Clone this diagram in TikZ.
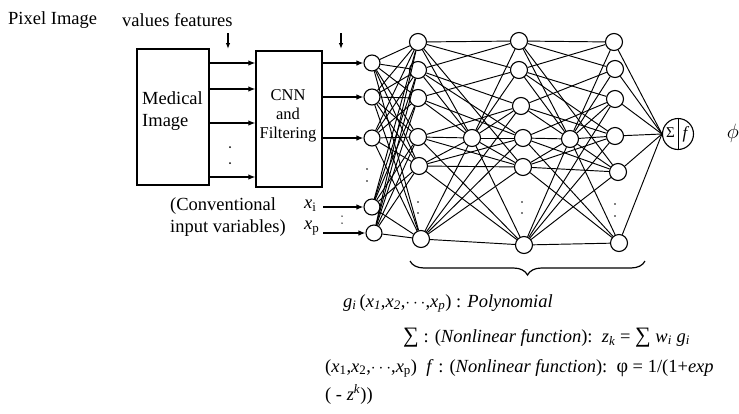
\documentclass[tikz,border=0pt]{standalone}
\usepackage{fontspec}
\setmainfont{Liberation Serif}
\usetikzlibrary{arrows.meta,decorations.pathreplacing}
\newcommand\xsb[2]{\textit{#1}\textsubscript{#2}}
\begin{document}
\begin{tikzpicture}[x=1pt,y=-1pt,
  neuron/.style={circle,draw,line width=1.1pt,minimum size=17pt,inner sep=0pt,fill=white},
  inneuron/.style={neuron,minimum size=16pt},
  conn/.style={line width=0.95pt},
  arr/.style={line width=1.2pt,-{Latex[length=7pt,width=5.5pt]}},
  box/.style={draw,line width=1.3pt,inner sep=0pt},
  big/.style={font=\fontsize{18.5}{22}\selectfont,inner sep=0pt},
  mid/.style={font=\fontsize{16.5}{19}\selectfont,inner sep=0pt},
  bot/.style={font=\fontsize{18.5}{21}\selectfont,inner sep=0pt},
  dot/.style={circle,fill,inner sep=0pt,minimum size=2pt}]
\useasboundingbox (0,0) rectangle (739,413);

% top labels
\node[big,anchor=west] (pix) at (8,20) {Pixel Image};
\node[big,anchor=west] (val) at (122,20) {values features};
\coordinate (d1t) at (228,33); \coordinate (d1b) at (228,49);
\coordinate (d2t) at (341,33); \coordinate (d2b) at (341,49);
\draw[line width=1.1pt,-{Latex[length=6pt,width=4.5pt]}] (d1t) -- (d1b);
\draw[line width=1.1pt,-{Latex[length=6pt,width=4.5pt]}] (d2t) -- (d2b);

% boxes
\node[box,minimum width=72pt,minimum height=136pt] (med) at (173,117) {};
\node[big,align=left,anchor=west] (medtxt) at (142,111) {Medical\\Image};
\node[box,minimum width=66pt,minimum height=136pt] (cnn) at (289,119) {};
\node[mid,align=center] (cnntxt) at (288,116) {CNN\\and\\Filtering};

\coordinate (r1) at (0,63); \coordinate (r2) at (0,89);
\coordinate (r3) at (0,123); \coordinate (r4) at (0,177);
\foreach \r in {r1,r2,r3,r4} \draw[arr] (med.east |- \r) -- (cnn.west |- \r);
\node[dot] (md1) at (230,147) {};
\node[dot] (md2) at (230,163) {};

% input neurons
\node[inneuron] (I1) at (372,63) {};
\node[inneuron] (I2) at (372,97) {};
\node[inneuron] (I3) at (372,138) {};
\node[inneuron] (I4) at (372,207) {};
\node[inneuron] (I5) at (374,233) {};
\draw[arr] (cnn.east |- I1) -- (I1);
\draw[arr] (cnn.east |- I2) -- (I2);
\draw[arr] (cnn.east |- I3) -- (I3);
\node[dot,minimum size=1.8pt] (id1) at (367,169) {};
\node[dot,minimum size=1.8pt] (id2) at (367,181) {};

\node[big,anchor=west] (conv1) at (170,206) {(Conventional};
\node[big,anchor=west] (conv2) at (170,228) {input variables)};
\node[big,anchor=west] (xi) at (304,206) {\textit{x}\textsubscript{i}};
\node[big,anchor=west] (xp) at (304,228) {\textit{x}\textsubscript{p}};
\coordinate (xis) at (323,207); \coordinate (xps) at (323,233);
\draw[arr] (xis) -- (I4);
\draw[arr] (xps) -- (I5);
\node[dot,minimum size=1.5pt] (xd1) at (342,216) {};
\node[dot,minimum size=1.5pt] (xd2) at (342,223) {};

% hidden layers
\foreach \n/\x/\y in {A1/418/42,A2/418/70,A3/418/98,A4/418/137,A5/419/166,A6/421/239,
  M1/472/138,
  B1/519/41,B2/519/70,B3/521/106,B4/523/138,B5/523/167,B6/524/245,
  M2/570/139,
  C1/614/42,C2/615/69,C3/615/99,C4/615/136,C5/618/172,C6/619/243}
  \node[neuron] (\n) at (\x,\y) {};
\foreach \x/\y in {418/202,418/213,522/202,522/213,615/204,615/216}
  \node[dot,minimum size=1.8pt] at (\x,\y) {};

% input -> A
\foreach \i in {1,...,5} \foreach \j in {1,...,6} \draw[conn] (I\i) -- (A\j);

% A -> B and B -> C
\foreach \X/\Y/\M in {A/B/M1,B/C/M2}{
  \foreach \i in {1,...,6} {\draw[conn] (\X\i) -- (\M); \draw[conn] (\M) -- (\Y\i);}
  \foreach \a/\b in {1/1,1/2,2/1,2/3,3/2,3/4,4/3,4/5,5/4,5/5,5/6,6/6,6/4,6/3,6/5,4/6,1/5,2/4}
    \draw[conn] (\X\a) -- (\Y\b);
}

% output
\node[circle,draw,line width=1.1pt,minimum size=31pt,inner sep=0pt] (out) at (678,134) {};
\draw[line width=1pt] (out.north) -- (out.south);
\node[font=\fontsize{15}{15}\selectfont,inner sep=0pt] (sig) at (670.5,133) {Σ};
\node[font=\fontsize{17}{17}\selectfont\itshape,inner sep=0pt] (fo) at (685,134) {f};
\foreach \i in {1,...,6} \draw[conn] (C\i) -- (out.west);
\node[font=\fontsize{20}{20}\selectfont,inner sep=0pt] (phi) at (733,133) {$\phi$};

% brace
\coordinate (bl) at (410,261); \coordinate (br) at (645,261);
\draw[line width=1.2pt,decorate,decoration={brace,mirror,amplitude=14pt}] (bl) -- (br);

% bottom text
\node[bot,anchor=base west] (t1) at (343,307) {\textit{g}\textsubscript{\textit{i}}\,(\xsb{x}{\textit{1}},\xsb{x}{\textit{2}},$\cdots$,\xsb{x}{\textit{p}}) : \textit{Polynomial}};
\node[bot,anchor=base west] (t2) at (403,342) {{\fontsize{22}{22}\selectfont ∑} : (\textit{Nonlinear function}):~~\xsb{z}{\textit{k}} = {\fontsize{22}{22}\selectfont ∑} \xsb{w}{\textit{i}} \xsb{g}{\textit{i}}};
\node[bot,anchor=base west] (t3) at (325,372) {(\xsb{x}{1},\xsb{x}{2},$\cdots$,\xsb{x}{p})~~\textit{f} : (\textit{Nonlinear function}):~~{\fontsize{20}{20}\selectfont φ} = 1/(1+\textit{exp}};
\node[bot,anchor=base west] (t4) at (325,400) {( - \textit{z}\textsuperscript{\textit{k}}))};
\end{tikzpicture}
\end{document}
